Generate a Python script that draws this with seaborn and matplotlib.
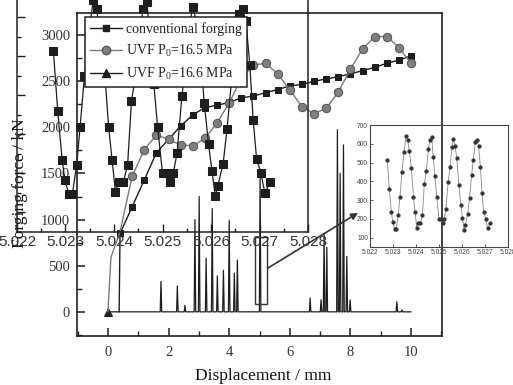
import numpy as np
import pandas as pd
import matplotlib
matplotlib.use("Agg")
import matplotlib.pyplot as plt
import seaborn as sns
from matplotlib.lines import Line2D
from matplotlib.patches import Rectangle
from matplotlib.ticker import MultipleLocator, FormatStrFormatter

# ---------------- data ----------------
conv_x = [0.37, 0.4, 0.8, 1.2, 1.6, 2.0, 2.4, 2.8, 3.2, 3.6, 4.0, 4.4, 4.8, 5.2,
          5.6, 6.0, 6.4, 6.8, 7.2, 7.6, 8.0, 8.4, 8.8, 9.2, 9.6, 10.0]
conv_y = [0, 850, 1140, 1430, 1725, 1870, 2015, 2135, 2215, 2240, 2270, 2320, 2340,
          2375, 2410, 2450, 2465, 2500, 2525, 2550, 2580, 2615, 2650, 2695, 2730, 2775]

uvf165_x = [0, 0.1, 0.4, 0.8, 1.2, 1.6, 2.0, 2.4, 2.8, 3.2, 3.6, 4.0, 4.4, 4.8, 5.2,
            5.6, 6.0, 6.4, 6.8, 7.2, 7.6, 8.0, 8.4, 8.8, 9.2, 9.6, 10.0]
uvf165_y = [0, 590, 870, 1470, 1760, 1915, 1870, 1810, 1800, 1880, 2050, 2265, 2530,
            2675, 2695, 2580, 2405, 2225, 2150, 2205, 2385, 2630, 2850, 2985, 2985,
            2865, 2695]

# UVF P0=16.6 MPa: force is zero except for short impacts (peaks)
spike_x = [1.75, 2.29, 2.54, 2.87, 3.01, 3.24, 3.44, 3.61, 3.81, 4.00, 4.17, 4.27,
           5.02, 6.67, 7.03, 7.13, 7.22, 7.57, 7.66, 7.77, 7.88, 7.99, 9.53, 9.70]
spike_h = [330, 280, 70, 1000, 1250, 580, 1120, 390, 450, 990, 420, 560,
           1500, 150, 130, 850, 700, 1975, 1500, 1810, 600, 130, 110, 20]
uvf166_start = 0.0
uvf166_end = 10.0

# zoomed detail (5.022-5.028 mm) of UVF P0=16.6 MPa
osc_x = [5.02275, 5.02284, 5.02293, 5.02299, 5.02307, 5.02314, 5.02323, 5.0233,
         5.02339, 5.02348, 5.02357, 5.02364, 5.02371, 5.0238, 5.02389, 5.02396,
         5.02403, 5.0241, 5.02419, 5.02428, 5.02436, 5.02445, 5.02454, 5.0246,
         5.02468, 5.02475, 5.02482, 5.0249, 5.025, 5.02509, 5.02516, 5.02522,
         5.0253, 5.0254, 5.02548, 5.02557, 5.02562, 5.0257, 5.02577, 5.02586,
         5.02595, 5.02602, 5.02609, 5.02614, 5.02625, 5.02633, 5.02642, 5.02649,
         5.02658, 5.02665, 5.02672, 5.0268, 5.02687, 5.02694, 5.02703, 5.02711,
         5.02722]
osc_y = [514, 359, 235, 182, 146, 146, 221, 318, 448, 555,
         643, 620, 562, 470, 318, 235, 153, 177, 177, 221,
         384, 455, 572, 620, 638, 528, 430, 318, 200, 200,
         177, 200, 251, 398, 478, 585, 626, 590, 526, 381,
         274, 206, 141, 168, 225, 313, 434, 515, 608, 620,
         590, 478, 336, 238, 200, 150, 177]

main_xticks = [0, 2, 4, 6, 8, 10]
main_yticks = [0, 500, 1000, 1500, 2000, 2500, 3000]
zoom_xticks = [5.022, 5.023, 5.024, 5.025, 5.026, 5.027, 5.028]
zoom_yticks = [100, 200, 300, 400, 500, 600, 700]
labels = ["conventional forging", "UVF P$_\\mathrm{0}$=16.5 MPa",
          "UVF P$_\\mathrm{0}$=16.6 MPa"]

# build the UVF 16.6 trace from its peaks
hw = 0.025
s_x, s_y = [uvf166_start], [0]
for px, ph in zip(spike_x, spike_h):
    s_x += [px - hw, px, px + hw]
    s_y += [0, ph, 0]
s_x.append(uvf166_end)
s_y.append(0)

# ---------------- style ----------------
sns.set_style("ticks")
plt.rcParams["font.family"] = ["Liberation Serif", "DejaVu Serif"]
plt.rcParams["mathtext.fontset"] = "custom"
plt.rcParams["mathtext.rm"] = "Liberation Serif"
plt.rcParams["mathtext.it"] = "Liberation Serif:italic"

W, H = 513, 385
def fax(l, t, r, b):
    return [l / W, 1 - b / H, (r - l) / W, (b - t) / H]

fig = plt.figure(figsize=(W / 100, H / 100), dpi=100)
txt = "#333333"
dark = "#1e1e1e"
grey = "#7a7a7a"

# ---------------- main axes ----------------
ax = fig.add_axes(fax(77, 13, 442, 336))
ax.set_facecolor("none")
ax.set_xlim(-1.02, 11.02)
ax.set_ylim(-262, 3240)

sns.lineplot(x=s_x, y=s_y, ax=ax, estimator=None, sort=False, color=dark, lw=0.9,
             marker="^", markersize=6, markevery=[0], markeredgecolor=dark)
sns.lineplot(x=conv_x, y=conv_y, ax=ax, estimator=None, sort=False, color=dark, lw=1.0,
             marker="s", markersize=5, markevery=list(range(1, len(conv_x))),
             markeredgecolor=dark, markerfacecolor=dark)
sns.lineplot(x=uvf165_x, y=uvf165_y, ax=ax, estimator=None, sort=False, color=grey,
             lw=1.0, marker="o", markersize=6,
             markevery=list(range(3, len(uvf165_x))),
             markerfacecolor="#808080", markeredgecolor="#555555")

ax.set_xticks(main_xticks)
ax.set_yticks(main_yticks)
ax.xaxis.set_minor_locator(MultipleLocator(1))
ax.yaxis.set_minor_locator(MultipleLocator(250))
ax.tick_params(which="major", direction="in", length=6, width=1.1, colors=dark,
               labelcolor=txt, labelsize=10.5)
ax.tick_params(which="minor", direction="in", length=3.5, width=1.0, colors=dark)
ax.tick_params(axis="x", which="major", pad=7)
ax.tick_params(axis="y", which="major", pad=5)
for sp in ax.spines.values():
    sp.set_linewidth(1.2)
    sp.set_color("#222222")
ax.set_xlabel("Displacement / mm", fontsize=12.5, color="#111111")
ax.set_ylabel("Forging force / kN", fontsize=12.5, color="#111111")
ax.xaxis.set_label_coords(0.51, -0.098)
ax.yaxis.set_label_coords(-0.135, 0.474)

ax.add_patch(Rectangle((4.85, 84), 0.40, 726, fill=False, ec="#333333", lw=1.0, zorder=5))
ax.annotate("", xy=(8.25, 1073), xytext=(5.28, 475),
            arrowprops=dict(arrowstyle="-|>", color="#333333", lw=1.2,
                            mutation_scale=10, shrinkA=0, shrinkB=0))

# ---------------- big zoomed copy (upper left) ----------------
bx = fig.add_axes(fax(17, -22, 308, 232))
bx.set_facecolor("none")
bx.set_xlim(5.022, 5.028)
bx.set_ylim(50, 700)
sns.lineplot(x=osc_x, y=osc_y, ax=bx, estimator=None, sort=False, color=dark, lw=0.9,
             marker="s", markersize=5.5, markerfacecolor=dark, markeredgecolor=dark)
bx.set_xticks(zoom_xticks)
bx.xaxis.set_major_formatter(FormatStrFormatter("%.3f"))
bx.xaxis.set_minor_locator(MultipleLocator(0.0005))
bx.set_yticks(zoom_yticks)
bx.yaxis.set_minor_locator(MultipleLocator(50))
bx.tick_params(which="major", direction="in", length=6, width=1.0, colors=dark,
               labelsize=11, labelcolor=txt, pad=2)
bx.tick_params(which="minor", direction="in", length=3, width=1.0, colors=dark)
bx.tick_params(axis="y", labelleft=False)
for lab in bx.get_xticklabels():
    lab.set_family("Liberation Sans")
for sp in bx.spines.values():
    sp.set_linewidth(1.1)
    sp.set_color("#222222")
bx.set_xlabel("")
bx.set_ylabel("")

handles = [
    Line2D([], [], color=dark, marker="s", markersize=5, lw=1.0,
           markerfacecolor=dark, markeredgecolor=dark),
    Line2D([], [], color=grey, marker="o", markersize=6, lw=1.0,
           markerfacecolor="#808080", markeredgecolor="#555555"),
    Line2D([], [], color=dark, marker="^", markersize=6, lw=1.0,
           markerfacecolor=dark, markeredgecolor=dark),
]
leg = bx.legend(handles, labels, loc="upper left",
                bbox_to_anchor=(85 / W, 1 - 17 / H), bbox_transform=fig.transFigure,
                frameon=True, fancybox=False, framealpha=1, edgecolor="#222222",
                fontsize=10, handlelength=2.3, handletextpad=0.3,
                labelspacing=0.5, borderpad=0.35, borderaxespad=0)
leg.get_frame().set_linewidth(1.1)
for t in leg.get_texts():
    t.set_color("#222222")
leg.set_zorder(20)

# ---------------- small inset (right) ----------------
rx = fig.add_axes(fax(370, 125, 508, 247))
rx.set_facecolor("none")
rx.set_xlim(5.022, 5.028)
rx.set_ylim(50, 700)
sns.lineplot(x=osc_x, y=osc_y, ax=rx, estimator=None, sort=False, color="#888888",
             lw=0.6, marker="o", markersize=2.3, markerfacecolor="#333333",
             markeredgecolor="#333333")
rx.set_xticks(zoom_xticks)
rx.xaxis.set_major_formatter(FormatStrFormatter("%.3f"))
rx.set_yticks(zoom_yticks)
rx.tick_params(which="major", direction="in", length=2, width=0.6, colors="#444444",
               labelsize=4.8, labelcolor="#444444", pad=1.5)
for lab in rx.get_xticklabels() + rx.get_yticklabels():
    lab.set_family("Liberation Sans")
for sp in rx.spines.values():
    sp.set_linewidth(0.8)
    sp.set_color("#444444")
rx.set_xlabel("")
rx.set_ylabel("")

fig.savefig("out.png", dpi=100)
